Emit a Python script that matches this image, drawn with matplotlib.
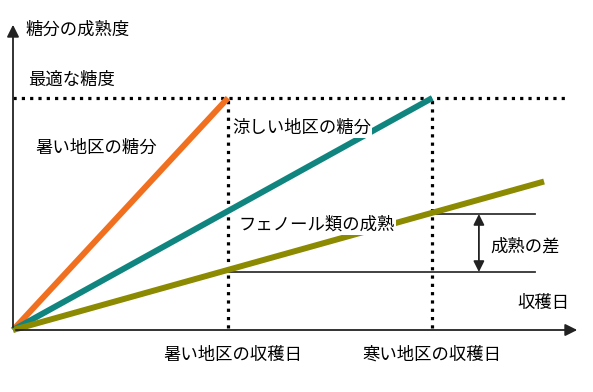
import matplotlib
matplotlib.use('Agg')
from matplotlib import pyplot as plt

plt.rcParams['font.family'] = ['Noto Sans CJK JP', 'DejaVu Sans']

# data (x: days relative to hot-region harvest, y: ripeness relative to optimum)
optimal_sugar = 1.0
hot_harvest = 1.0
cold_harvest = 1.95
phenol_end = 2.47
hot_sugar_x = [0, hot_harvest]
hot_sugar_y = [0, 1.0]
cool_sugar_x = [0, cold_harvest]
cool_sugar_y = [0, 1.0]
phenol_x = [0, phenol_end]
phenol_y = [0, 0.64]
phenol_at_hot = 0.25
phenol_at_cold = 0.50

fig = plt.figure(figsize=(5.93, 3.92), dpi=100)
ax = fig.add_axes([0, 0, 1, 1])
ax.set_xlim(-13/215, 580/215)
ax.set_ylim(-62/232, 330/232)
ax.axis('off')

fs = 12.5

# axes arrows
ax.annotate('', xy=(567/215, 0), xytext=(0, 0),
            arrowprops=dict(arrowstyle='-|>', color='#222222', lw=1.3, mutation_scale=18))
ax.annotate('', xy=(0, 308/232), xytext=(0, 0),
            arrowprops=dict(arrowstyle='-|>', color='#222222', lw=1.3, mutation_scale=18))

# optimal level and harvest verticals
dots = (0, (1, 1.6))
ax.plot([0, 552/215], [optimal_sugar, optimal_sugar], color='black', lw=2.3, linestyle=dots)
ax.plot([hot_harvest, hot_harvest], [0.01, optimal_sugar], color='black', lw=2.3, linestyle=dots)
ax.plot([cold_harvest, cold_harvest], [0.01, optimal_sugar], color='black', lw=2.3, linestyle=dots)

# difference lines
ax.plot([hot_harvest, 2.43], [phenol_at_hot, phenol_at_hot], color='#333333', lw=1.3)
ax.plot([cold_harvest, 2.43], [phenol_at_cold, phenol_at_cold], color='#333333', lw=1.3)
ax.annotate('', xy=(2.167, phenol_at_cold), xytext=(2.167, phenol_at_hot),
            arrowprops=dict(arrowstyle='<|-|>', color='#222222', lw=1.3, mutation_scale=16,
                            shrinkA=0, shrinkB=0))

# ripeness lines
ax.plot(hot_sugar_x, hot_sugar_y, color='#F07020', lw=4.3, solid_capstyle='butt')
ax.plot(cool_sugar_x, cool_sugar_y, color='#10857F', lw=4.3, solid_capstyle='butt')
ax.plot(phenol_x, phenol_y, color='#8C8A00', lw=4.3, solid_capstyle='butt')

# labels
ax.text(0.056, 1.293, '糖分の成熟度', fontsize=fs, ha='left', va='center')
ax.text(0.07, 1.078, '最適な糖度', fontsize=fs, ha='left', va='center')
ax.text(0.102, 0.784, '暑い地区の糖分', fontsize=fs, ha='left', va='center')
ax.text(1.019, 0.871, '涼しい地区の糖分', fontsize=fs, ha='left', va='center',
        bbox=dict(facecolor='white', edgecolor='none', pad=1))
ax.text(1.047, 0.453, 'フェノール類の成熟', fontsize=fs, ha='left', va='center',
        bbox=dict(facecolor='white', edgecolor='none', pad=1))
ax.text(2.219, 0.358, '成熟の差', fontsize=fs, ha='left', va='center')
ax.text(2.59, 0.116, '収穫日', fontsize=fs, ha='right', va='center')
ax.text(1.023, -0.108, '暑い地区の収穫日', fontsize=fs, ha='center', va='center')
ax.text(cold_harvest, -0.108, '寒い地区の収穫日', fontsize=fs, ha='center', va='center')

plt.savefig('out.png', dpi=100)
